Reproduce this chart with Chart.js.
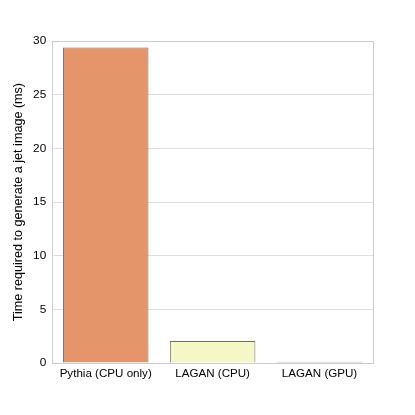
<!DOCTYPE html>
<html>
<head>
<meta charset="utf-8">
<script src="https://cdn.jsdelivr.net/npm/chart.js@4"></script>
<style>
  html, body { margin: 0; padding: 0; background: #fff; }
  #c { display: block; }
</style>
</head>
<body>
<canvas id="c" width="415" height="415"></canvas>
<script>
const canvas = document.getElementById('c');
const ctx = canvas.getContext('2d');

//// data
const categories = ['Pythia (CPU only)', 'LAGAN (CPU)', 'LAGAN (GPU)'];
const timesMs = [29.4, 2.06, 0.13];
const barColors = ['#e5956a', '#f5f7c4', '#8fbf7a'];
const yTicks = [0, 5, 10, 15, 20, 25, 30];

// grey frame round the plot area
const frame = {
  id: 'frame',
  afterDraw(chart) {
    const a = chart.chartArea;
    const c = chart.ctx;
    c.save();
    c.strokeStyle = '#cccccc';
    c.lineWidth = 1;
    c.strokeRect(Math.round(a.left) + 0.5, Math.round(a.top) + 0.5,
      Math.round(a.right - a.left), Math.round(a.bottom - a.top));
    c.restore();
  }
};

Chart.defaults.color = '#000';
Chart.defaults.font.family = "'Liberation Sans', Arial, sans-serif";
Chart.defaults.font.size = 12;

new Chart(ctx, {
  type: 'bar',
  data: {
    labels: categories,
    datasets: [{
      data: timesMs,
      backgroundColor: barColors,
      borderColor: '#6e6e6e',
      borderWidth: 1,
      barPercentage: 0.8,
      categoryPercentage: 1.0
    }]
  },
  options: {
    responsive: false,
    animation: false,
    layout: { padding: { top: 41, right: 42, bottom: 30, left: 11 } },
    plugins: {
      legend: { display: false },
      tooltip: { enabled: false }
    },
    scales: {
      x: {
        grid: { display: false, drawTicks: false },
        border: { color: '#cccccc' },
        ticks: { padding: 4, maxRotation: 0, minRotation: 0, autoSkip: false, font: { size: 11.6 } }
      },
      y: {
        min: 0,
        max: 30,
        afterBuildTicks(axis) {
          axis.ticks = yTicks.map(v => ({ value: v }));
        },
        grid: { color: '#dddddd', drawTicks: false },
        border: { color: '#cccccc' },
        ticks: { padding: 6, font: { size: 11.8 } },
        title: {
          display: true,
          text: 'Time required to generate a jet image (ms)',
          font: { size: 12.6 },
          padding: { top: 0, bottom: 1 }
        }
      }
    }
  },
  plugins: [frame]
});
</script>
</body>
</html>
